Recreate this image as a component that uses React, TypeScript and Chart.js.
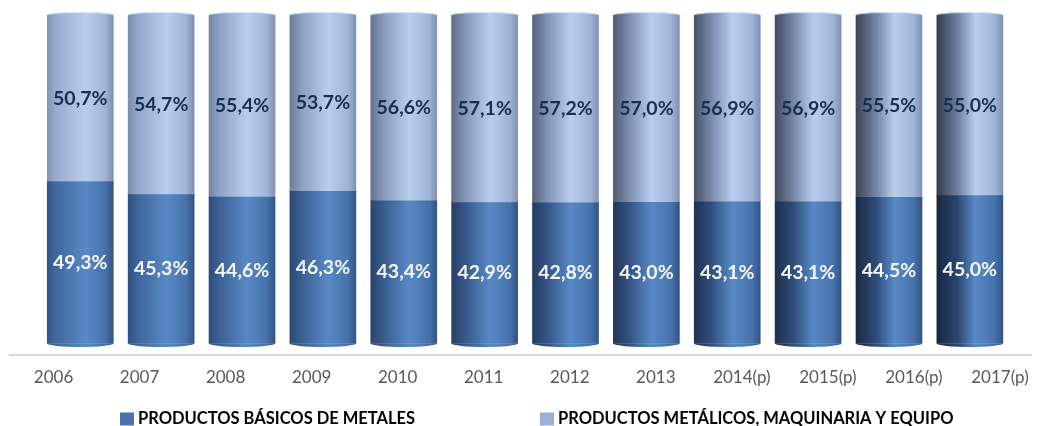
import React, { useEffect, useRef } from 'react';
import { Chart, registerables } from 'chart.js';

Chart.register(...registerables);

const categories = ['2006', '2007', '2008', '2009', '2010', '2011', '2012', '2013', '2014(p)', '2015(p)', '2016(p)', '2017(p)'];
const basicMetals = [49.3, 45.3, 44.6, 46.3, 43.4, 42.9, 42.8, 43.0, 43.1, 43.1, 44.5, 45.0];
const metalProducts = [50.7, 54.7, 55.4, 53.7, 56.6, 57.1, 57.2, 57.0, 56.9, 56.9, 55.5, 55.0];
const seriesNames = ['PRODUCTOS BÁSICOS DE METALES', 'PRODUCTOS METÁLICOS, MAQUINARIA Y EQUIPO'];
const legendColors = ['#4a73a9', '#9bb0d8'];

const BAR_W = 66;
const FONT = 'Lato, "Open Sans", sans-serif';

type RGB = number[];
const mix = (a: RGB, b: RGB, t: number) =>
  `rgb(${a.map((v, i) => Math.round(v + (b[i] - v) * t)).join(',')})`;

const palettes: Record<string, { l0: RGB; l1: RGB; m0: RGB; m1: RGB; hi: RGB; r1: RGB; r2: RGB }> = {
  low: { l0: [50, 85, 135], l1: [24, 38, 62], m0: [64, 103, 158], m1: [44, 72, 115], hi: [88, 137, 198], r1: [70, 114, 172], r2: [50, 84, 132] },
  up: { l0: [130, 148, 183], l1: [52, 60, 78], m0: [150, 170, 205], m1: [112, 128, 160], hi: [186, 205, 238], r1: [160, 180, 215], r2: [126, 144, 180] },
};

function cylGradient(chart: any, dataIndex: number, kind: string) {
  const p = palettes[kind];
  const xs = chart.scales && chart.scales.x;
  if (!xs || !chart.chartArea) return mix(p.hi, p.hi, 0);
  const cx = xs.getPixelForValue(dataIndex);
  const half = BAR_W / 2;
  const g = chart.ctx.createLinearGradient(cx - half, 0, cx + half, 0);
  const t = dataIndex / (categories.length - 1);
  g.addColorStop(0, mix(p.l0, p.l1, t));
  g.addColorStop(0.12 + 0.2 * t, mix(p.m0, p.m1, t));
  g.addColorStop(0.58, mix(p.hi, p.hi, 0));
  g.addColorStop(0.88, mix(p.r1, p.r1, 0));
  g.addColorStop(1, mix(p.r2, p.r2, 0));
  return g;
}

const cylinderCaps = {
  id: 'cylinderCaps',
  afterDatasetsDraw(chart: any) {
    const ctx = chart.ctx;
    const m0 = chart.getDatasetMeta(0);
    const m1 = chart.getDatasetMeta(1);
    m0.data.forEach((el: any, i: number) => {
      const b = el.getProps(['x', 'y', 'base', 'width'], true);
      const r = b.width / 2;
      ctx.save();
      ctx.fillStyle = el.options.backgroundColor;
      ctx.beginPath();
      ctx.ellipse(b.x, b.base, r, 3.5, 0, 0, Math.PI);
      ctx.fill();
      const top = m1.data[i];
      if (top) {
        const tp = top.getProps(['x', 'y', 'width'], true);
        ctx.fillStyle = top.options.backgroundColor;
        ctx.beginPath();
        ctx.ellipse(tp.x, tp.y, r, 3, 0, Math.PI, 2 * Math.PI);
        ctx.fill();
        ctx.strokeStyle = 'rgba(225,232,245,0.9)';
        ctx.lineWidth = 1;
        ctx.beginPath();
        ctx.ellipse(tp.x, tp.y, r - 0.5, 2.5, 0, Math.PI, 2 * Math.PI);
        ctx.stroke();
      }
      ctx.restore();
    });
  },
};

const valueLabels = {
  id: 'valueLabels',
  afterDatasetsDraw(chart: any) {
    const ctx = chart.ctx;
    ctx.save();
    ctx.font = `bold 19.5px ${FONT}`;
    ctx.textAlign = 'center';
    ctx.textBaseline = 'middle';
    chart.data.datasets.forEach((ds: any, di: number) => {
      const meta = chart.getDatasetMeta(di);
      ctx.fillStyle = di === 0 ? '#f4f7fb' : '#17304f';
      meta.data.forEach((el: any, i: number) => {
        const p = el.getProps(['x', 'y', 'base'], true);
        const v = ds.data[i].y;
        ctx.fillText(v.toFixed(1).replace('.', ',') + '%', p.x, (p.y + p.base) / 2);
      });
    });
    ctx.restore();
  },
};

const customLegend = {
  id: 'customLegend',
  afterDraw(chart: any) {
    const ctx = chart.ctx;
    ctx.save();
    ctx.font = `bold 16.5px ${FONT}`;
    ctx.textBaseline = 'middle';
    ctx.textAlign = 'left';
    const slot = 420;
    const start = (chart.width - slot * 2) / 2 + 19;
    const cy = chart.height - 7;
    chart.data.datasets.forEach((ds: any, i: number) => {
      const x = start + i * slot;
      ctx.fillStyle = legendColors[i];
      ctx.fillRect(x, cy - 6.5, 14, 13);
      ctx.fillStyle = '#000000';
      ctx.fillText(ds.label, x + 18, cy);
    });
    ctx.restore();
  },
};

export default function App() {
  const ref = useRef<HTMLCanvasElement | null>(null);
  useEffect(() => {
    if (!ref.current) return;
    const chart = new Chart(ref.current, {
      type: 'bar',
      data: {
        datasets: [
          {
            label: seriesNames[0],
            data: basicMetals.map((v, i) => ({ x: i, y: v })),
            backgroundColor: (c: any) => (c.type === 'data' ? cylGradient(c.chart, c.dataIndex, 'low') : legendColors[0]),
            borderWidth: 0,
            barThickness: BAR_W,
            xAxisID: 'x',
          },
          {
            label: seriesNames[1],
            data: metalProducts.map((v, i) => ({ x: i, y: v })),
            backgroundColor: (c: any) => (c.type === 'data' ? cylGradient(c.chart, c.dataIndex, 'up') : legendColors[1]),
            borderWidth: 0,
            barThickness: BAR_W,
            xAxisID: 'x',
          },
        ],
      } as any,
      options: {
        responsive: false,
        animation: false,
        layout: { autoPadding: false, padding: { top: 15, left: 10, right: 0, bottom: 25 } },
        plugins: {
          legend: { display: false },
          tooltip: { enabled: false },
        },
        scales: {
          x: {
            type: 'linear',
            display: false,
            stacked: true,
            offset: false,
            min: -0.869,
            max: 11.766,
          },
          xl: {
            type: 'linear',
            position: 'bottom',
            offset: false,
            min: -0.506,
            max: 11.37,
            grid: { display: false, drawTicks: false, offset: false },
            border: { display: true, color: '#d9d9d9', width: 2 },
            afterBuildTicks: (axis: any) => {
              axis.ticks = categories.map((_, i) => ({ value: i }));
            },
            ticks: {
              autoSkip: false,
              maxRotation: 0,
              padding: 13,
              color: '#595959',
              font: { family: FONT, size: 17 },
              callback: (value: any) => categories[value as number] ?? '',
            },
          },
          y: {
            display: false,
            stacked: true,
            min: -3.385,
            max: 100,
          },
        },
      } as any,
      plugins: [cylinderCaps, valueLabels, customLegend],
    });
    return () => chart.destroy();
  }, []);
  return (
    <div style={{ position: 'absolute', left: 0, top: 0, width: 1042, height: 426, background: '#ffffff' }}>
      <canvas ref={ref} width={1042} height={426} />
    </div>
  );
}
